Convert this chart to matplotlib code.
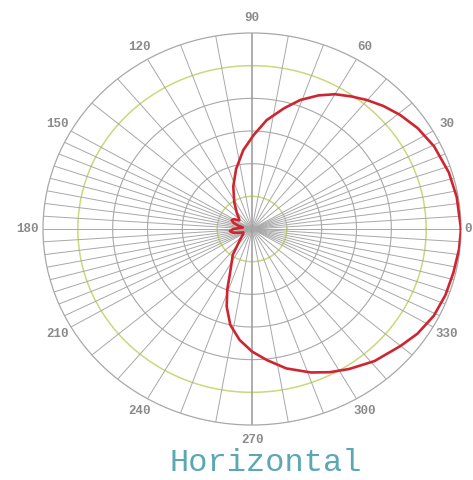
import matplotlib

matplotlib.use("Agg")
import matplotlib.pyplot as plt
import numpy as np

# horizontal radiation pattern (deg, normalised radius)
angle_deg = [0, 9.5, 17, 25.8, 33, 39.4, 45, 50.2, 55, 60, 65, 70.7, 76, 82.8,
             89, 95.9, 104, 112.5, 122, 132, 138, 144, 150, 155, 160, 165,
             170, 175, 180, 186, 191, 196, 203, 212, 224, 235, 245, 249,
             253, 258, 264, 270, 276, 283, 291, 297, 303, 311, 320, 326,
             333, 340, 347, 354, 360]
radius = [1.0, 0.993, 0.985, 0.968, 0.945, 0.917, 0.888, 0.857, 0.826,
          0.794, 0.752, 0.697, 0.635, 0.56, 0.48, 0.405, 0.315, 0.234,
          0.16, 0.108, 0.085, 0.075, 0.1, 0.107, 0.095, 0.07, 0.045,
          0.06, 0.09, 0.106, 0.095, 0.07, 0.045, 0.05, 0.08, 0.16,
          0.249, 0.33, 0.414, 0.5, 0.569, 0.625, 0.672, 0.73, 0.784,
          0.82, 0.852, 0.893, 0.928, 0.955, 0.976, 0.985, 0.989, 0.996, 1.0]

tick_angles = [0, 30, 60, 90, 120, 150, 180, 210, 240, 270, 300, 330]
title = "Horizontal"

# grid spokes: 3.75 deg steps within +-30 deg of the horizontal, 10 deg elsewhere
spokes = np.concatenate([
    np.arange(0, 30, 3.75), np.arange(30, 150, 10),
    np.arange(150, 210, 3.75), np.arange(210, 330, 10),
    np.arange(330, 360, 3.75),
])
rings = np.arange(1, 6) / 6.0

fig = plt.figure(figsize=(4.73, 4.80), dpi=100)
ax = fig.add_axes([43 / 473, 55 / 480, 418 / 473, 392 / 480], projection="polar")
ax.set_aspect("auto")  # the original is slightly stretched sideways
ax.set_ylim(0, 1)
ax.grid(False)
ax.set_xticks([])
ax.set_yticks([])
ax.spines["polar"].set_color("#a8a8a8")
ax.spines["polar"].set_linewidth(0.9)

th = np.linspace(0, 2 * np.pi, 400)
for i, r in enumerate(rings):
    green = i in (0, 4)
    ax.plot(th, np.full_like(th, r), color="#cdd77c" if green else "#a8a8a8",
            lw=1.1 if green else 0.8, zorder=1)
for a in spokes:
    t = np.deg2rad(a)
    strong = a % 90 == 0 and a % 180 != 0
    ax.plot([t, t], [0, 1], color="#999999" if strong else "#a8a8a8",
            lw=1.1 if strong else 0.7, zorder=1)

ax.plot(np.deg2rad(angle_deg), radius, color="#cf2530", lw=1.9, zorder=3)

label_style = dict(fontsize=9, color="#8a8a8a", family="Liberation Mono",
                   fontweight="bold", clip_on=False)
for a in tick_angles:
    if a == 0:
        # the original crops this one at the right edge; keep it just inside
        fig.text(0.998, 1 - 229 / 480, str(a), ha="right", va="center",
                 **label_style)
        continue
    ax.text(np.deg2rad(a), 1.075, str(a), ha="center", va="center",
            **label_style)

fig.text(266 / 473, 1 - 463 / 480, title, ha="center", va="center",
         fontsize=23, color="#5aa8b6", family="Liberation Mono")

fig.savefig("out.png", dpi=100)
